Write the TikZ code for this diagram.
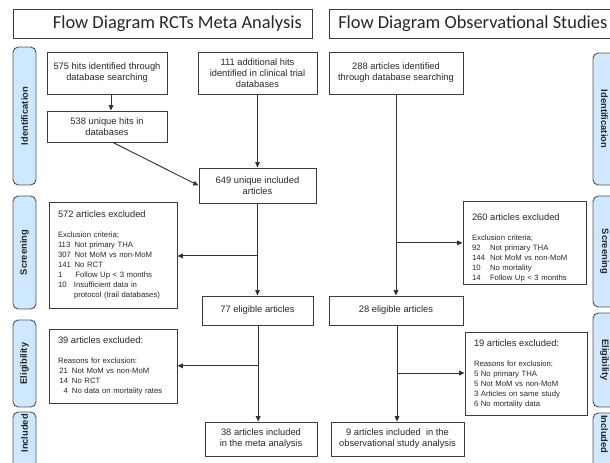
\documentclass[tikz,border=0pt]{standalone}
\usepackage{fontspec}
\setmainfont{Liberation Sans}
\newfontfamily\titlefont{Carlito}
\usetikzlibrary{arrows.meta,calc}
\definecolor{sideblue}{RGB}{206,232,255}
\definecolor{sideline}{RGB}{85,85,85}
\definecolor{boxline}{RGB}{60,60,60}
\definecolor{txt}{RGB}{40,40,40}
\newcommand{\hd}[1]{{\fontsize{7}{8.5}\selectfont #1}}
\newcommand{\nb}[2]{\makebox[#1][l]{#2}}
\tikzset{
  flowbox/.style={draw=boxline, line width=0.7pt, rectangle, inner sep=0pt, align=center,
    fill=white, text=txt, font=\fontsize{7}{8.25}\selectfont},
  exclbox/.style={flowbox, align=left, inner xsep=6.75pt, inner ysep=2pt,
    font=\fontsize{5.8}{7.5}\selectfont},
  titlebox/.style={draw=boxline, line width=0.7pt, rectangle, inner sep=0pt,
    minimum height=21.75pt, text=black!85},
  titletext/.style={font=\titlefont\fontsize{13.8}{16}\selectfont, text=black!85, inner sep=0pt},
  side/.style={draw=sideline, fill=sideblue, rounded corners=4pt, line width=0.7pt,
    inner sep=0pt, minimum height=17.25pt, text=black!85,
    font=\fontsize{7}{8}\selectfont\bfseries},
  conn/.style={draw=black!80, line width=0.7pt},
  arr/.style={conn, -{Triangle[length=4pt,width=3.5pt]}}
}
\begin{document}
\begin{tikzpicture}[x=0.75pt,y=-0.75pt]
\useasboundingbox (0,0) rectangle (610,462);
\clip (0,0) rectangle (610,462);

% titles
\node[titlebox, minimum width=224.25pt] (tL) at (162.5,23.5) {};
\node[titletext, anchor=east] (tLt) at (302,23.5) {Flow Diagram RCTs Meta Analysis};
\node[titlebox, minimum width=240pt] (tR) at (489,23.5) {};
\node[titletext, anchor=west] (tRt) at (338,23.5) {Flow Diagram Observational Studies};

% side labels left
\node[side, rotate=90, minimum width=103.5pt] (sIdL) at (24.5,116) {Identification};
\node[side, rotate=90, minimum width=84.75pt] (sScL) at (24.5,252.5) {Screening};
\node[side, rotate=90, minimum width=65.25pt] (sElL) at (24.5,363.5) {Eligibility};
\node[side, rotate=90, minimum width=75pt] (sInL) at (24.5,462) {\hspace*{43pt}Included};
% side labels right
\node[side, rotate=-90, minimum width=99pt] (sIdR) at (604.5,119) {Identification};
\node[side, rotate=-90, minimum width=83.25pt] (sScR) at (604.5,251.5) {Screening};
\node[side, rotate=-90, minimum width=70.5pt] (sElR) at (604.5,360) {Eligibility};
\node[side, rotate=-90, minimum width=75pt] (sInR) at (604.5,463) {Included\hspace*{43pt}};

% left column
\node[flowbox, minimum width=90pt, minimum height=31.5pt] (n575) at (107,73) {575 hits identified through\\database searching};
\node[flowbox, minimum width=89.25pt, minimum height=31.5pt] (n111) at (257.5,73) {111 additional hits\\identified in clinical trial\\databases};
\node[flowbox, minimum width=90pt, minimum height=23.25pt] (n538) at (107,126.5) {538 unique hits in\\databases};
\node[flowbox, minimum width=87.75pt, minimum height=26.25pt] (n649) at (257.5,185.5) {649 unique included\\articles};
\node[exclbox, text width=82.5pt, minimum height=79.5pt] (n572) at (113,255) {\hd{572 articles excluded}\\[7.5pt]
Exclusion criteria;\\
\nb{12.5pt}{113}Not primary THA\\
\nb{12.5pt}{307}Not MoM vs non-MoM\\
\nb{12.5pt}{141}No RCT\\
\nb{13pt}{1}Follow Up {\textless} 3 months\\
\nb{12pt}{10}Insufficient data in\\
\nb{12pt}{}protocol (trail databases)};
\node[flowbox, minimum width=83.25pt, minimum height=21.75pt] (n77) at (257.5,310.5) {77 eligible articles};
\node[exclbox, text width=82.5pt, minimum height=55.5pt] (n39) at (113,366) {\hd{39 articles excluded:}\\[7pt]
Reasons for exclusion:\\
\makebox[7.5pt][r]{21}\hspace{3pt}Not MoM vs non-MoM\\
\makebox[7.5pt][r]{14}\hspace{3pt}No RCT\\
\makebox[7.5pt][r]{4}\hspace{3pt}No data on mortality rates};
\node[flowbox, minimum width=84pt, minimum height=25.5pt] (n38) at (261,439) {38 articles included\\in the meta analysis};

% right column
\node[flowbox, minimum width=100.5pt, minimum height=31.5pt] (n288) at (396,73) {288 articles identified\\through database searching};
\node[exclbox, text width=78.75pt, minimum height=60pt] (n260) at (524.5,243) {\hd{\rule{0pt}{12pt}260 articles excluded}\\[7.5pt]
Exclusion criteria;\\
\nb{13.5pt}{92}Not primary THA\\
\nb{13.5pt}{144}Not MoM vs non-MoM\\
\nb{13.5pt}{10}No mortality\\
\nb{13.5pt}{14}Follow Up {\textless} 3 months};
\node[flowbox, minimum width=100.5pt, minimum height=21.75pt] (n28) at (396,310.5) {28 eligible articles};
\node[exclbox, text width=78pt, minimum height=62.25pt] (n19) at (526,373.5) {\hd{19 articles excluded:}\\[7.5pt]
Reasons for exclusion:\\
5 No primary THA\\
5 Not MoM vs non-MoM\\
3 Articles on same study\\
6 No mortality data};
\node[flowbox, minimum width=99.75pt, minimum height=25.5pt] (n9) at (397.5,439) {9 articles included\ \ in the\\observational study analysis};

% connectors left
\draw[arr] ([xshift=3pt]n575.south) -- ([xshift=3pt]n538.north);
\draw[arr] ([xshift=4.5pt]n538.south) -- (n649.west);
\draw[arr] (n111.south) -- (n649.north);
\draw[arr] (n649.south) -- (n77.north);
\coordinate (b1) at ($(n649.south)!0.57!(n77.north)$);
\draw[arr] (b1) -- (b1 -| n572.east);
\draw[arr] ([xshift=0.5pt]n77.south) -- ([xshift=0.5pt]n77.south |- n38.north);
\coordinate (b2) at ($([xshift=0.5pt]n77.south)!0.42!([xshift=0.5pt]n77.south |- n38.north)$);
\draw[arr] (b2) -- (b2 -| n39.east);

% connectors right
\draw[arr] (n288.south) -- (n28.north);
\coordinate (b3) at ($(n288.south)!0.738!(n28.north)$);
\draw[arr] (b3) -- (b3 -| n260.west);
\draw[arr] ([xshift=0.75pt]n28.south) -- ([xshift=0.75pt]n28.south |- n9.north);
\coordinate (b4) at ($([xshift=0.75pt]n28.south)!0.495!([xshift=0.75pt]n28.south |- n9.north)$);
\draw[arr] (b4) -- (b4 -| n19.west);
\end{tikzpicture}
\end{document}
